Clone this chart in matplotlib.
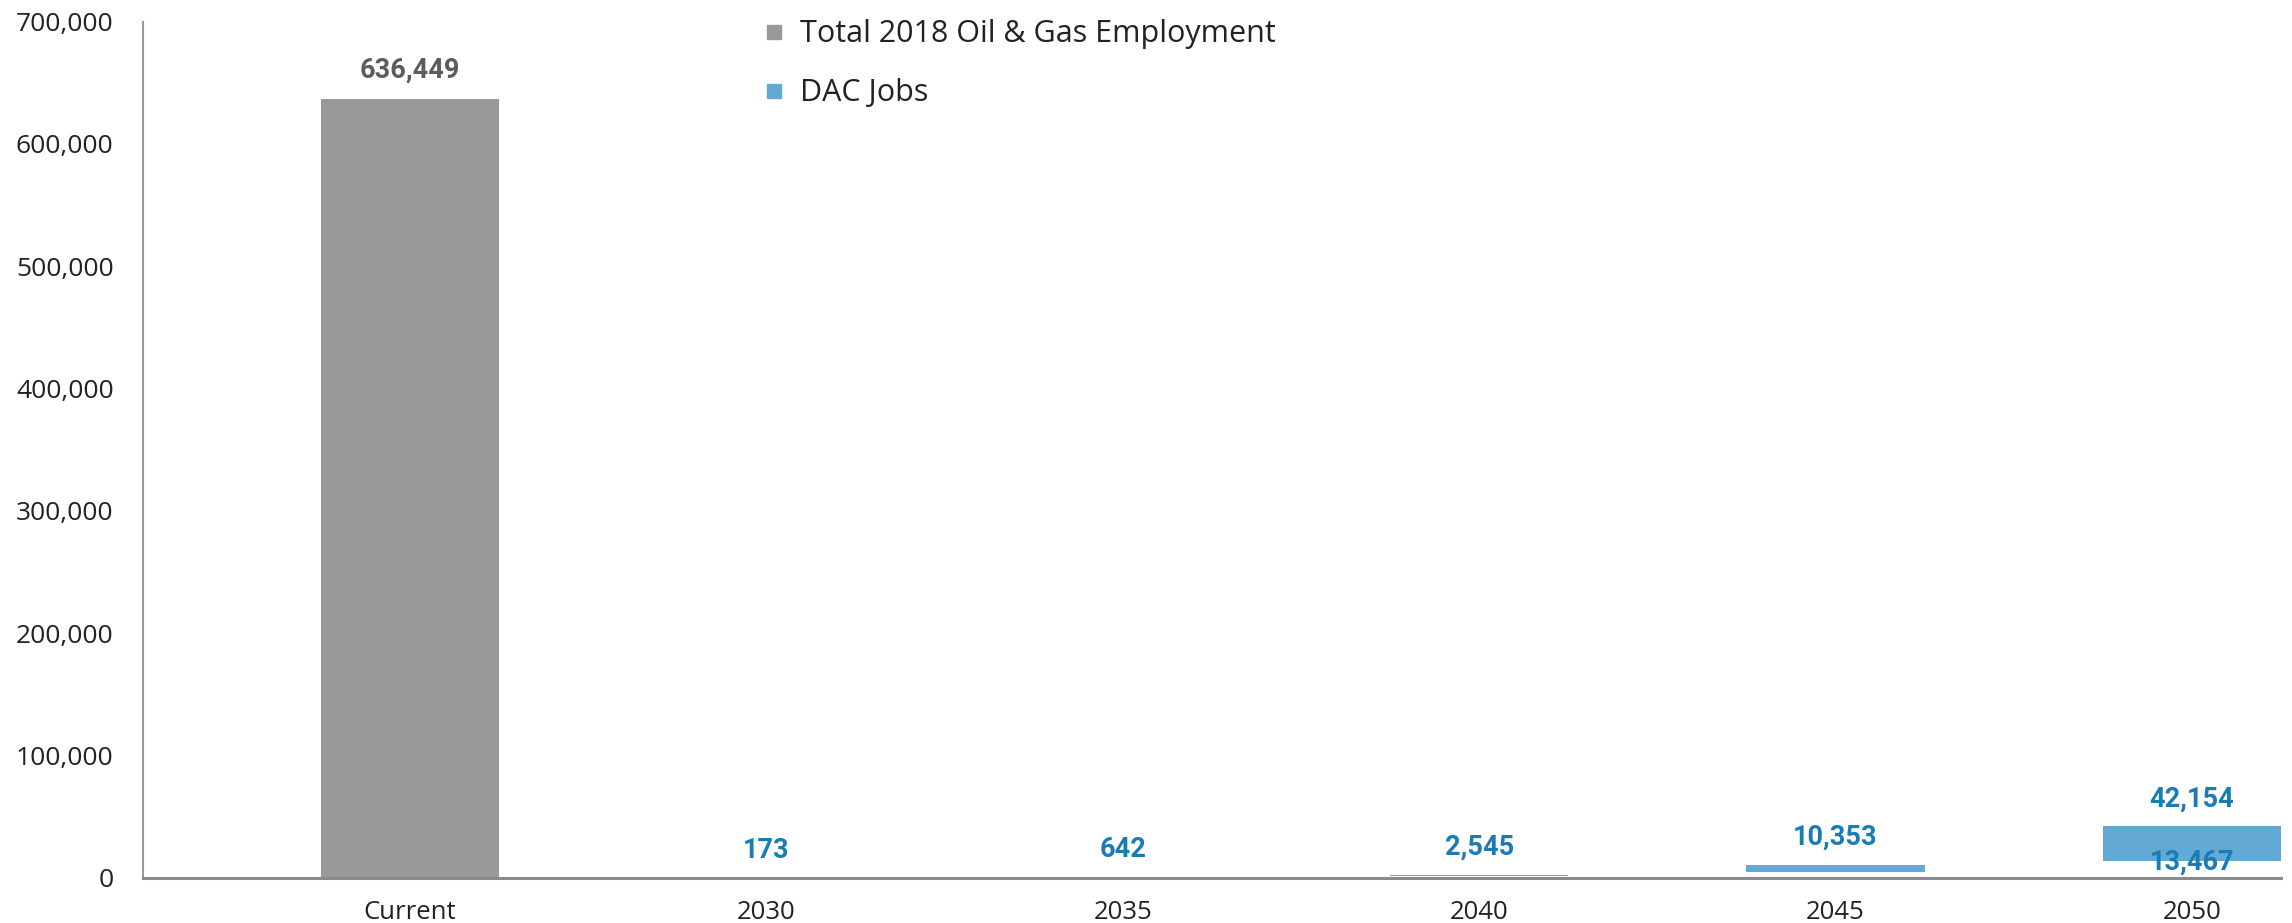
import matplotlib
matplotlib.use("Agg")
import matplotlib.pyplot as plt
from matplotlib.lines import Line2D
from matplotlib.ticker import FuncFormatter

# employment figures
categories = ["Current", "2030", "2035", "2040", "2045", "2050"]
oil_gas_current = 636449
dac_years = ["2030", "2035", "2040", "2045", "2050"]
dac_high = [173, 642, 2545, 10353, 42154]
dac_low = [60, 250, 1400, 4400, 13467]

GRAY = "#999999"
GRAY_TXT = "#5c5c5c"
BLUE = "#63a9d6"
BLUE_TXT = "#1a7cb4"

fig = plt.figure(figsize=(22.92, 9.23), dpi=100)
ax = fig.add_axes([0.0623, 0.0491, 0.9952 - 0.0623, 0.9765 - 0.0491])

x = list(range(len(categories)))
width = 0.5

ax.bar(0, oil_gas_current, width=width, color=GRAY, zorder=2)
ax.annotate(f"{oil_gas_current:,}", (0, oil_gas_current), xytext=(0, 11),
            textcoords="offset points", ha="center", va="bottom",
            fontsize=19.5, fontweight="bold", family="Roboto", color=GRAY_TXT)

dac_x = [categories.index(y) for y in dac_years]
heights = [h - l for h, l in zip(dac_high, dac_low)]
ax.bar(dac_x, heights, bottom=dac_low, width=width, color=BLUE, zorder=2)
for xi, hi in zip(dac_x, dac_high):
    ax.annotate(f"{hi:,}", (xi, hi), xytext=(0, 10), textcoords="offset points",
                ha="center", va="bottom", fontsize=19.5, fontweight="bold",
                family="Roboto", color=BLUE_TXT)
# lower bound shown only for the last year
ax.annotate(f"{dac_low[-1]:,}", (dac_x[-1], dac_low[-1]), xytext=(0, -1),
            textcoords="offset points", ha="center", va="center", fontsize=19.5,
            fontweight="bold", family="Roboto", color=BLUE_TXT, zorder=3)

ax.set_xlim(-0.75, 5.25)
ax.set_ylim(0, 700000)
ax.set_yticks(range(0, 700001, 100000))
ax.yaxis.set_major_formatter(FuncFormatter(lambda v, p: f"{int(v):,}"))
ax.set_xticks(x)
ax.set_xticklabels(categories)

for lab in ax.get_yticklabels():
    lab.set_family("Open Sans")
    lab.set_fontsize(19)
    lab.set_color("#222222")
for lab in ax.get_xticklabels():
    lab.set_family("Open Sans")
    lab.set_fontsize(18.5)
    lab.set_color("#222222")

ax.tick_params(axis="y", length=0, pad=21)
ax.tick_params(axis="x", length=0, pad=16)

for s in ["top", "right"]:
    ax.spines[s].set_visible(False)
ax.spines["left"].set_color("#9a9a9a")
ax.spines["left"].set_linewidth(1.5)
ax.spines["bottom"].set_color("#8a8a8a")
ax.spines["bottom"].set_linewidth(2.2)

handles = [
    Line2D([], [], marker="s", linestyle="none", markersize=10.5,
           markerfacecolor=GRAY, markeredgecolor=GRAY),
    Line2D([], [], marker="s", linestyle="none", markersize=10.5,
           markerfacecolor=BLUE, markeredgecolor=BLUE),
]
leg = fig.legend(handles, ["Total 2018 Oil & Gas Employment", "DAC Jobs"],
                 loc="upper left", bbox_to_anchor=(750 / 2292, 1 - 4 / 923),
                 frameon=False, handlelength=0.6, handletextpad=0.55,
                 labelspacing=0.95, borderpad=0,
                 prop={"family": "Open Sans", "size": 22})
for t in leg.get_texts():
    t.set_color("#222222")

fig.savefig("out.png", dpi=100)
